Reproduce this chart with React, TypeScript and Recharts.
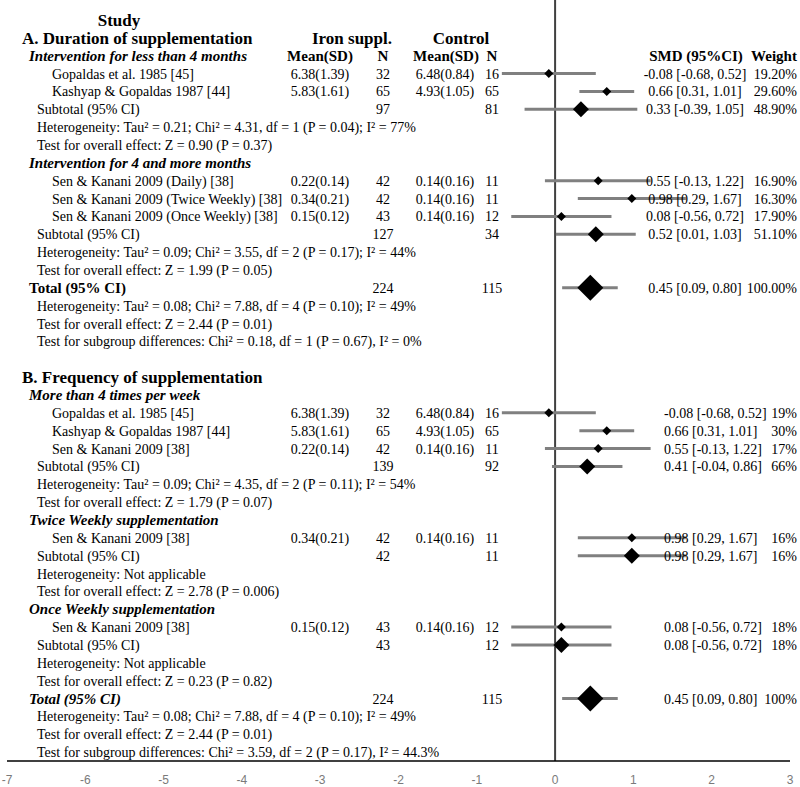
import React from "react";
import { ScatterChart, Scatter, XAxis, YAxis, ErrorBar, ReferenceLine } from "recharts";

// left column, one entry per row (top to bottom)
const rowLabels = [
  "Study",
  "A. Duration of supplementation",
  "Intervention for less than 4 months",
  "Gopaldas et al. 1985 [45]",
  "Kashyap & Gopaldas 1987 [44]",
  "Subtotal (95% CI)",
  "Heterogeneity: Tau² = 0.21; Chi² = 4.31, df = 1 (P = 0.04); I² = 77%",
  "Test for overall effect: Z = 0.90 (P = 0.37)",
  "Intervention for 4 and more months",
  "Sen & Kanani 2009 (Daily) [38]",
  "Sen & Kanani 2009 (Twice Weekly) [38]",
  "Sen & Kanani 2009 (Once Weekly) [38]",
  "Subtotal (95% CI)",
  "Heterogeneity: Tau² = 0.09; Chi² = 3.55, df = 2 (P = 0.17); I² = 44%",
  "Test for overall effect: Z = 1.99 (P = 0.05)",
  "Total (95% CI)",
  "Heterogeneity: Tau² = 0.08; Chi² = 7.88, df = 4 (P = 0.10); I² = 49%",
  "Test for overall effect: Z = 2.44 (P = 0.01)",
  "Test for subgroup differences: Chi² = 0.18, df = 1 (P = 0.67), I² = 0%",
  "",
  "B. Frequency of supplementation",
  "More than 4 times per week",
  "Gopaldas et al. 1985 [45]",
  "Kashyap & Gopaldas 1987 [44]",
  "Sen & Kanani 2009 [38]",
  "Subtotal (95% CI)",
  "Heterogeneity: Tau² = 0.09; Chi² = 4.35, df = 2 (P = 0.11); I² = 54%",
  "Test for overall effect: Z = 1.79 (P = 0.07)",
  "Twice Weekly supplementation",
  "Sen & Kanani 2009 [38]",
  "Subtotal (95% CI)",
  "Heterogeneity: Not applicable",
  "Test for overall effect: Z = 2.78 (P = 0.006)",
  "Once Weekly supplementation",
  "Sen & Kanani 2009 [38]",
  "Subtotal (95% CI)",
  "Heterogeneity: Not applicable",
  "Test for overall effect: Z = 0.23 (P = 0.82)",
  "Total (95% CI)",
  "Heterogeneity: Tau² = 0.08; Chi² = 7.88, df = 4 (P = 0.10); I² = 49%",
  "Test for overall effect: Z = 2.44 (P = 0.01)",
  "Test for subgroup differences: Chi² = 3.59, df = 2 (P = 0.17), I² = 44.3%",
];

const rowKinds = [
  "title", "section", "group", "study", "study", "subtotal", "note", "note",
  "group", "study", "study", "study", "subtotal", "note", "note",
  "total", "note", "note", "note", "blank",
  "section", "group", "study", "study", "study", "subtotal", "note", "note",
  "group", "study", "subtotal", "note", "note",
  "group", "study", "subtotal", "note", "note",
  "totalItalic", "note", "note", "note",
];

const groupHeaders = ["Iron suppl.", "Control"];
const columnHeaders = ["Mean(SD)", "N", "Mean(SD)", "N", "SMD (95%CI)", "Weight"];

// rows that carry an estimate
const forestRows = [3, 4, 5, 9, 10, 11, 12, 15, 22, 23, 24, 25, 29, 30, 34, 35, 38];
const forestKinds = [
  "study", "study", "subtotal", "study", "study", "study", "subtotal", "total",
  "study", "study", "study", "subtotal", "study", "subtotal", "study", "subtotal", "total",
];
const ironMean = [
  "6.38(1.39)", "5.83(1.61)", "", "0.22(0.14)", "0.34(0.21)", "0.15(0.12)", "", "",
  "6.38(1.39)", "5.83(1.61)", "0.22(0.14)", "", "0.34(0.21)", "", "0.15(0.12)", "", "",
];
const ironN = [32, 65, 97, 42, 42, 43, 127, 224, 32, 65, 42, 139, 42, 42, 43, 43, 224];
const ctrlMean = [
  "6.48(0.84)", "4.93(1.05)", "", "0.14(0.16)", "0.14(0.16)", "0.14(0.16)", "", "",
  "6.48(0.84)", "4.93(1.05)", "0.14(0.16)", "", "0.14(0.16)", "", "0.14(0.16)", "", "",
];
const ctrlN = [16, 65, 81, 11, 11, 12, 34, 115, 16, 65, 11, 92, 11, 11, 12, 12, 115];
const smd = [-0.08, 0.66, 0.33, 0.55, 0.98, 0.08, 0.52, 0.45, -0.08, 0.66, 0.55, 0.41, 0.98, 0.98, 0.08, 0.08, 0.45];
const ciLow = [-0.68, 0.31, -0.39, -0.13, 0.29, -0.56, 0.01, 0.09, -0.68, 0.31, -0.13, -0.04, 0.29, 0.29, -0.56, -0.56, 0.09];
const ciHigh = [0.52, 1.01, 1.05, 1.22, 1.67, 0.72, 1.03, 0.8, 0.52, 1.01, 1.22, 0.86, 1.67, 1.67, 0.72, 0.72, 0.8];
const weights = [
  "19.20%", "29.60%", "48.90%", "16.90%", "16.30%", "17.90%", "51.10%", "100.00%",
  "19%", "30%", "17%", "66%", "16%", "16%", "18%", "18%", "100%",
];

const xTicks = [-7, -6, -5, -4, -3, -2, -1, 0, 1, 2, 3];

const SERIF = "'Liberation Serif', 'Times New Roman', serif";
const SECTION_B_START = 20;

const forestData = forestRows.map((row, i) => ({
  x: smd[i],
  y: row,
  err: [smd[i] - ciLow[i], ciHigh[i] - smd[i]],
  kind: forestKinds[i],
}));

const tableData = rowLabels.map((label, row) => {
  const k = forestRows.indexOf(row);
  return {
    x: -7,
    y: row,
    label,
    kind: rowKinds[row],
    cells:
      k < 0
        ? null
        : {
            ironMean: ironMean[k],
            ironN: String(ironN[k]),
            ctrlMean: ctrlMean[k],
            ctrlN: String(ctrlN[k]),
            smd: `${smd[k].toFixed(2)} [${ciLow[k].toFixed(2)}, ${ciHigh[k].toFixed(2)}]`,
            weight: weights[k],
          },
  };
});

const labelX: Record<string, number> = {
  section: 22,
  group: 29,
  total: 29,
  totalItalic: 29,
  study: 52,
  subtotal: 37,
  note: 37,
};

function RowText(props: any) {
  const { cy, payload } = props;
  const { label, kind, cells, y: row } = payload;
  const base = cy + 5;
  const t = (x: number, s: string, extra: any = {}) => (
    <text x={x} y={base} fontFamily={SERIF} fontSize={14} fill="#000" {...extra}>
      {s}
    </text>
  );
  if (kind === "blank") return <g />;
  if (kind === "title") {
    return t(119, label, { fontSize: 17, fontWeight: "bold", textAnchor: "middle", y: cy + 6 });
  }
  const out: any[] = [];
  if (kind === "section") {
    out.push(t(labelX.section, label, { key: "l", fontSize: 17, fontWeight: "bold", y: cy + 6 }));
    if (row === 1) {
      out.push(t(352, groupHeaders[0], { key: "g0", fontSize: 17, fontWeight: "bold", textAnchor: "middle", y: cy + 6 }));
      out.push(t(461, groupHeaders[1], { key: "g1", fontSize: 17, fontWeight: "bold", textAnchor: "middle", y: cy + 6 }));
    }
  } else if (kind === "group") {
    out.push(t(labelX.group, label, { key: "l", fontSize: 15, fontWeight: "bold", fontStyle: "italic" }));
    if (row === 2) {
      const xs = [320, 383, 446, 492, 696, 774];
      columnHeaders.forEach((h, i) =>
        out.push(t(xs[i], h, { key: "h" + i, fontSize: 15, fontWeight: "bold", textAnchor: "middle" }))
      );
    }
  } else if (kind === "total" || kind === "totalItalic") {
    out.push(
      t(labelX.total, label, {
        key: "l",
        fontSize: 15,
        fontWeight: "bold",
        fontStyle: kind === "totalItalic" ? "italic" : "normal",
      })
    );
  } else {
    out.push(t(labelX[kind] ?? 37, label, { key: "l" }));
  }
  if (cells) {
    const inB = row >= SECTION_B_START;
    out.push(t(320, cells.ironMean, { key: "im", textAnchor: "middle" }));
    out.push(t(383, cells.ironN, { key: "in", textAnchor: "middle" }));
    out.push(t(445, cells.ctrlMean, { key: "cm", textAnchor: "middle" }));
    out.push(t(492, cells.ctrlN, { key: "cn", textAnchor: "middle" }));
    out.push(
      inB
        ? t(664, cells.smd, { key: "smd" })
        : t(695, cells.smd, { key: "smd", textAnchor: "middle" })
    );
    out.push(t(797, cells.weight, { key: "w", textAnchor: "end" }));
  }
  return <g>{out}</g>;
}

const DIAMOND_HALF: Record<string, number> = { study: 4.5, subtotal: 8, total: 13 };

function Diamond(props: any) {
  const { cx, cy, payload } = props;
  const h = DIAMOND_HALF[payload.kind];
  return (
    <polygon
      points={`${cx - h},${cy} ${cx},${cy - h} ${cx + h},${cy} ${cx},${cy + h}`}
      fill="#000"
    />
  );
}

export default function App() {
  return (
    <div style={{ position: "absolute", left: 0, top: 0, background: "#fff" }}>
      <ScatterChart width={800} height={787} margin={{ top: 0, right: 10, bottom: 0, left: 7 }}>
        <XAxis
          type="number"
          dataKey="x"
          domain={[-7, 3]}
          ticks={xTicks}
          interval={0}
          height={26}
          tickLine={false}
          tickMargin={8}
          axisLine={{ stroke: "#000", strokeWidth: 1.5 }}
          tick={{ fill: "#7a7a7a", fontSize: 12, fontFamily: "'Liberation Sans', Arial, sans-serif" }}
        />
        <YAxis type="number" dataKey="y" domain={[-1.12, 41.5]} reversed hide />
        <ReferenceLine x={0} stroke="#404040" strokeWidth={2} />
        <Scatter data={tableData} shape={RowText} isAnimationActive={false} />
        <Scatter data={forestData} shape={() => <g />} isAnimationActive={false}>
          <ErrorBar dataKey="err" direction="x" width={0} stroke="#808080" strokeWidth={3} />
        </Scatter>
        <Scatter data={forestData} shape={Diamond} isAnimationActive={false} />
      </ScatterChart>
    </div>
  );
}
